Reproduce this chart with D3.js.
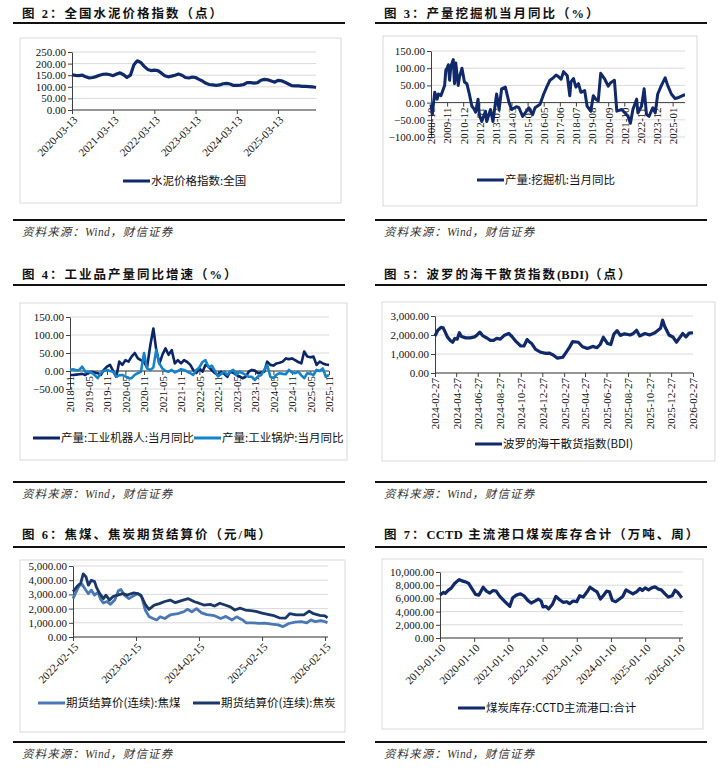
<!DOCTYPE html>
<html>
<head>
<meta charset="utf-8">
<script src="https://cdn.jsdelivr.net/npm/d3@7"></script>
<style>
  body { margin: 0; background: #fff; }
  svg { display: block; }
</style>
</head>
<body>
<script>
// ---------- data ----------
// 图2 水泥价格指数 (monthly from 2020-03-13)
const cementStart = '2020-03-13';
const cementValues = [152,149,148,150,143,138,140,144,150,154,155,152,148,155,160,152,140,150,195,212,
  205,188,175,170,172,170,160,148,143,146,150,155,150,140,138,142,140,132,125,115,
  110,108,106,108,113,115,112,106,106,107,110,118,118,116,118,128,132,130,125,120,
  128,126,120,112,105,104,104,102,102,101,100,97];
const cementTicks = ['2020-03-13','2021-03-13','2022-03-13','2023-03-13','2024-03-13','2025-03-13'];

// 图3 挖掘机产量当月同比
const excavatorMonths = ['2008-10','2008-11','2009-01','2009-03','2009-04','2009-06','2009-09','2009-10','2009-11','2009-12',
  '2010-01','2010-02','2010-04','2010-05','2010-06','2010-08','2010-09','2010-11','2011-01','2011-03',
  '2011-05','2011-07','2011-09','2011-10','2011-12','2012-01','2012-03','2012-06','2012-07','2012-10',
  '2012-12','2013-03','2013-05','2013-07','2013-10','2014-01','2014-03','2014-07','2014-09','2014-12',
  '2015-02','2015-05','2015-08','2015-10','2016-02','2016-05','2016-08','2016-10','2016-12','2017-03',
  '2017-05','2017-07','2017-09','2017-12','2018-02','2018-03','2018-05','2018-07','2018-09','2018-11',
  '2019-02','2019-04','2019-07','2019-09','2019-11','2020-01','2020-03','2020-06','2020-09','2020-11',
  '2021-02','2021-04','2021-08','2021-10','2022-01','2022-03','2022-05','2022-08','2022-09','2022-12',
  '2023-02','2023-04','2023-06','2023-09','2023-11','2024-01','2024-04','2024-07','2024-09','2024-12',
  '2025-03','2025-06','2025-10','2025-11'];
const excavatorValues = [-5,-35,30,10,25,20,50,95,100,110,
  65,105,125,55,115,50,75,100,60,55,
  25,-10,-20,-28,10,-35,-55,-25,-55,-20,
  -55,25,-20,40,45,0,-20,-12,-15,-40,
  -30,-15,-35,-15,-5,25,50,65,70,80,
  75,68,90,78,20,60,70,45,55,30,
  35,-10,-25,20,10,5,85,70,48,58,
  65,-25,-20,-28,-40,-60,-20,10,-30,-10,
  40,-35,-40,-15,-30,25,50,72,50,25,
  12,15,22,22];
const excavatorTicks = ['2008-10','2009-11','2010-12','2012-01','2013-02','2014-03','2015-04','2016-05',
  '2017-06','2018-07','2019-08','2020-09','2021-10','2022-11','2023-12','2025-01'];

// 图4 工业机器人 / 工业锅炉 当月同比 (monthly from 2018-11)
const industryStart = '2018-11';
const robotValues = [-11,-11,-10,-9,-8,-11,-5,-2,-4,-6,
  -11,3,12,17,0,-16,26,17,30,26,
  40,50,35,30,25,10,70,118,60,20,
  45,63,45,58,21,30,21,30,25,17,
  3,-6,7,-2,17,12,2,-6,-11,-2,
  -8,-16,-2,-5,-11,-15,-20,-16,-2,3,
  1,-6,-4,-2,26,17,15,21,23,26,
  35,33,35,30,25,21,54,40,38,40,
  17,26,21,18,17];
const boilerValues = [3,5,2,3,12,-2,-2,-4,-11,-20,
  -6,0,3,0,-2,-16,-12,-11,-15,-20,
  -20,-11,-6,-2,50,7,3,10,58,21,
  7,0,-2,3,-4,0,5,3,-2,-6,
  -11,3,10,25,30,10,15,0,-15,-8,
  -2,-11,-2,3,-11,-2,-6,-11,-16,-16,
  -25,-15,-11,3,17,-16,-20,-10,-6,-8,
  -9,3,-4,-6,-2,-12,-20,-6,-8,-11,
  3,0,7,-16,-11];
const industryTicks = ['2018-11','2019-05','2019-11','2020-05','2020-11','2021-05','2021-11','2022-05',
  '2022-11','2023-05','2023-11','2024-05','2024-11','2025-05','2025-11'];

// 图5 BDI
const bdiDates = ['2024-02-27','2024-03-06','2024-03-15','2024-03-21','2024-03-27','2024-04-02','2024-04-11','2024-04-17','2024-04-23','2024-04-30',
  '2024-05-06','2024-05-12','2024-05-24','2024-06-06','2024-06-18','2024-06-24','2024-07-03','2024-07-12','2024-07-24','2024-08-02',
  '2024-08-11','2024-08-20','2024-08-30','2024-09-11','2024-09-23','2024-10-02','2024-10-14','2024-10-27','2024-11-05','2024-11-14',
  '2024-11-20','2024-11-27','2024-12-08','2024-12-23','2025-01-06','2025-01-15','2025-01-27','2025-02-08','2025-02-23','2025-03-05',
  '2025-03-14','2025-03-23','2025-04-08','2025-04-20','2025-05-04','2025-05-19','2025-05-31','2025-06-09','2025-06-18','2025-06-30',
  '2025-07-09','2025-07-18','2025-07-27','2025-08-05','2025-08-17','2025-09-02','2025-09-11','2025-09-20','2025-09-29','2025-10-14',
  '2025-10-27','2025-11-11','2025-11-27','2025-12-03','2025-12-09','2025-12-21','2026-01-02','2026-01-11','2026-01-20','2026-01-29',
  '2026-02-07','2026-02-16','2026-02-27'];
const bdiValues = [1950,2250,2400,2380,2150,1900,1700,1620,1820,1780,
  2120,1920,1850,1850,1900,1980,2150,1950,1830,1720,
  1720,1820,1780,1990,2080,1920,1650,1420,1420,1760,
  1650,1550,1240,1090,1030,1050,950,780,830,1100,
  1350,1650,1620,1380,1290,1400,1330,1500,1880,1550,
  1500,2050,2230,1980,2060,2000,2080,2250,1950,2080,
  2000,2120,2350,2780,2450,2000,1880,1620,1850,2080,
  1900,2100,2120];
const bdiTicks = ['2024-02-27','2024-04-27','2024-06-27','2024-08-27','2024-10-27','2024-12-27','2025-02-27',
  '2025-04-27','2025-06-27','2025-08-27','2025-10-27','2025-12-27','2026-02-27'];

// 图6 焦煤、焦炭期货结算价
const cokeDates = ['2022-02-15','2022-03-10','2022-04-01','2022-04-15','2022-05-01','2022-05-15','2022-06-01','2022-06-20','2022-07-01','2022-07-20',
  '2022-08-10','2022-08-25','2022-09-15','2022-10-05','2022-11-01','2022-12-01','2022-12-25','2023-01-30','2023-02-28','2023-03-15',
  '2023-04-10','2023-05-01','2023-06-01','2023-07-01','2023-08-01','2023-09-01','2023-10-01','2023-11-15','2023-12-15','2024-01-20',
  '2024-02-15','2024-03-15','2024-04-20','2024-05-15','2024-06-15','2024-07-15','2024-08-15','2024-09-10','2024-10-10','2024-11-10',
  '2024-12-10','2025-01-10','2025-02-15','2025-03-20','2025-04-25','2025-05-25','2025-07-01','2025-07-25','2025-09-01','2025-10-15',
  '2025-11-15','2025-12-10','2026-01-15','2026-02-15','2026-03-01'];
const cokeValues = [3200,3550,3800,4450,4250,3650,4000,3900,3500,3050,
  2700,2950,2600,2850,2950,3050,2950,3100,3050,2950,
  2300,1950,2250,2350,2500,2600,2420,2600,2700,2480,
  2380,2250,2300,2180,2380,2250,2120,1900,2030,1900,
  1850,1800,1680,1600,1500,1350,1330,1650,1560,1560,
  1820,1640,1530,1480,1350];
const cokingCoalDates = ['2022-02-15','2022-03-10','2022-03-25','2022-04-10','2022-04-25','2022-05-15','2022-06-01','2022-06-20','2022-07-10','2022-07-25',
  '2022-08-10','2022-09-01','2022-09-20','2022-10-15','2022-11-05','2022-11-20','2022-12-10','2023-01-05','2023-02-01','2023-02-25',
  '2023-03-20','2023-04-10','2023-05-01','2023-05-25','2023-06-15','2023-07-05','2023-08-01','2023-09-01','2023-10-15','2023-11-20',
  '2023-12-10','2024-01-05','2024-02-01','2024-03-01','2024-04-01','2024-05-15','2024-06-20','2024-07-20','2024-08-25','2024-09-20',
  '2024-10-25','2024-11-15','2024-12-20','2025-01-25','2025-03-01','2025-04-10','2025-05-20','2025-06-15','2025-07-20','2025-08-25',
  '2025-10-01','2025-11-01','2025-11-25','2025-12-20','2026-01-20','2026-02-15','2026-03-01'];
const cokingCoalValues = [2700,3300,3650,3700,3400,3050,3300,2950,3150,2650,
  2400,2500,2300,2600,3250,3350,2950,2700,2900,3050,
  2850,1900,1450,1300,1200,1430,1300,1550,1650,1780,
  1950,1780,2000,1700,1580,1500,1300,1450,1200,1420,
  1200,1000,1000,960,980,900,850,730,950,1050,
  1080,1000,1200,1080,1150,1080,1000];
const cokeTicks = ['2022-02-15','2023-02-15','2024-02-15','2025-02-15','2026-02-15'];

// 图7 CCTD主流港口煤炭库存合计
const portDates = ['2019-01-10','2019-02-15','2019-03-07','2019-04-10','2019-05-10','2019-06-15','2019-07-20','2019-08-05','2019-09-01','2019-10-10',
  '2019-11-10','2019-12-20','2020-01-25','2020-03-01','2020-04-15','2020-05-20','2020-06-25','2020-07-30','2020-09-01','2020-10-10',
  '2020-11-20','2020-12-25','2021-01-25','2021-02-25','2021-04-05','2021-05-20','2021-06-25','2021-08-05','2021-09-10','2021-10-20',
  '2021-11-25','2021-12-25','2022-01-15','2022-02-15','2022-03-15','2022-04-25','2022-06-01','2022-07-10','2022-08-20','2022-09-25',
  '2022-10-25','2022-12-01','2023-01-10','2023-02-10','2023-03-20','2023-05-01','2023-06-01','2023-07-10','2023-08-15','2023-09-20',
  '2023-10-20','2023-11-25','2023-12-25','2024-01-25','2024-03-01','2024-04-10','2024-05-15','2024-06-20','2024-07-25','2024-09-01',
  '2024-10-10','2024-11-15','2024-12-10','2025-01-10','2025-02-15','2025-03-20','2025-04-25','2025-06-01','2025-07-01','2025-08-10',
  '2025-09-15','2025-10-25','2025-11-25','2025-12-25','2026-01-25','2026-02-05'];
const portValues = [6500,6900,6750,7250,7550,8250,8700,8850,8650,8500,
  8300,7400,6600,6500,7700,7100,6800,7200,7100,6300,
  5700,5200,4800,6100,6500,6700,6400,5700,5300,5600,
  5900,5600,4700,4800,4400,5100,6300,5800,5400,5500,
  5200,5600,5500,6400,6200,7000,7700,7300,7000,5900,
  6400,7100,7000,5700,5500,5900,6300,7300,7000,6700,
  7000,7500,7200,7600,7300,7600,7750,7400,7300,6700,
  6200,6400,7250,6900,6300,6100];
const portTicks = ['2019-01-10','2020-01-10','2021-01-10','2022-01-10','2023-01-10','2024-01-10','2025-01-10','2026-01-10'];

// ---------- drawing ----------
const svg = d3.select('body').append('svg')
    .attr('width', 719)
    .attr('height', 777);
svg.append('rect').attr('width', 719).attr('height', 777).attr('fill', '#fff');

const NAVY = '#10296b';
const pDay = d3.timeParse('%Y-%m-%d');
const pMon = d3.timeParse('%Y-%m');
const fmt2 = d3.format(',.2f');
const SERIF = '"Liberation Serif","Times New Roman","Noto Sans CJK SC",serif';
const CJK = '"Noto Sans CJK SC","Liberation Sans",sans-serif';

function drawPanel(c) {
    const g = svg.append('g');

    // title: CJK runs spaced out, latin words (CCTD, BDI) kept tight
    const t = g.append('text')
        .attr('x', c.rule[0] + 9).attr('y', c.titleY)
        .attr('font-family', SERIF).attr('font-weight', 700)
        .attr('font-size', 12.5).attr('fill', '#111');
    c.title.match(/[A-Za-z()]{2,}|[^A-Za-z()]+|./g).forEach(run => {
        t.append('tspan')
            .attr('letter-spacing', /^[A-Za-z()]{2,}$/.test(run) ? 0.3 : 2)
            .text(run);
    });

    // rules + source
    [c.ruleTop, c.ruleBot].forEach(yy => {
        g.append('line')
            .attr('x1', c.rule[0]).attr('x2', c.rule[1])
            .attr('y1', yy).attr('y2', yy)
            .attr('stroke', '#111').attr('stroke-width', 1.8);
    });
    const src = g.append('text')
        .attr('x', c.rule[0] + 9).attr('y', c.ruleBot + 16)
        .attr('font-style', 'italic').attr('font-size', 11.5)
        .attr('letter-spacing', 1.1).attr('fill', '#333');
    src.append('tspan').attr('font-family', CJK).text('资料来源：');
    src.append('tspan').attr('font-family', SERIF).attr('letter-spacing', 0.4).text('Wind');
    src.append('tspan').attr('font-family', CJK).text('，财信证券');

    // chart box
    g.append('rect')
        .attr('x', c.box[0]).attr('y', c.box[1])
        .attr('width', c.box[2] - c.box[0]).attr('height', c.box[3] - c.box[1])
        .attr('fill', '#fff').attr('stroke', '#d9d9d9').attr('stroke-width', 1);

    // scales
    const x = d3.scaleTime().domain(c.xDomain).range([c.plot[0], c.plot[1]]);
    const y = d3.scaleLinear().domain(c.yDomain).range([c.plot[3], c.plot[2]]);

    // grid
    g.append('g').selectAll('line')
        .data(c.yTicks)
        .enter().append('line')
            .attr('x1', c.plot[0]).attr('x2', c.plot[1])
            .attr('y1', d => y(d)).attr('y2', d => y(d))
            .attr('stroke', '#d9d9d9').attr('stroke-width', 1);

    // y axis
    const yAxis = d3.axisLeft(y).tickValues(c.yTicks).tickFormat(fmt2).tickSize(4).tickSizeOuter(0);
    const yG = g.append('g')
        .attr('transform', `translate(${c.plot[0]},0)`)
        .call(yAxis);
    yG.select('.domain').attr('stroke', '#404040');
    yG.selectAll('.tick line').attr('stroke', '#404040');
    yG.selectAll('text')
        .attr('font-family', SERIF).attr('font-size', 11).attr('fill', '#111').attr('x', -6);

    // x axis
    const axisY = y(c.xAxisAt);
    const xAxis = d3.axisBottom(x).tickValues(c.xTicks.map(c.parse))
        .tickFormat(d3.timeFormat(c.xFmt)).tickSize(4).tickSizeOuter(0);
    const xG = g.append('g')
        .attr('transform', `translate(0,${axisY})`)
        .call(xAxis);
    xG.select('.domain').attr('stroke', '#404040')
        .attr('d', `M${c.plot[0]},0H${c.plot[1]}`);
    xG.selectAll('.tick line').attr('stroke', '#404040');
    const xt = xG.selectAll('text')
        .attr('font-family', SERIF).attr('font-size', 11).attr('fill', '#111')
        .attr('text-anchor', 'end');
    if (c.rot === -90) {
        xt.attr('x', -5).attr('y', 0).attr('dy', '0.35em').attr('transform', 'rotate(-90)');
    } else {
        xt.attr('x', 0).attr('y', 0).attr('dy', '0.35em')
          .attr('transform', 'translate(3,8) rotate(-45)');
    }

    // lines
    const line = d3.line().x(d => x(d[0])).y(d => y(d[1]));
    c.series.forEach(s => {
        const pts = s.dates.map((d, i) => [d, s.values[i]]);
        g.append('path')
            .datum(pts)
            .attr('d', line)
            .attr('fill', 'none')
            .attr('stroke', s.color)
            .attr('stroke-width', s.width)
            .attr('stroke-linejoin', 'round');
    });

    // legend
    c.series.forEach(s => {
        g.append('line')
            .attr('x1', s.lx).attr('x2', s.lx + 27)
            .attr('y1', c.legendY).attr('y2', c.legendY)
            .attr('stroke', s.color).attr('stroke-width', 3);
        g.append('text')
            .attr('x', s.lx + 28).attr('y', c.legendY)
            .attr('dy', '0.35em')
            .attr('font-family', CJK).attr('font-size', 11.5).attr('fill', '#111')
            .text(s.name);
    });
}

// 图2
drawPanel({
    title: '图 2：全国水泥价格指数（点）',
    rule: [13, 345], titleY: 18, ruleTop: 23, ruleBot: 220,
    box: [20, 38, 341, 203],
    plot: [72, 316, 52, 110],
    yDomain: [0, 250], yTicks: [0, 50, 100, 150, 200, 250],
    xDomain: [pDay('2020-03-13'), pDay('2026-02-13')],
    xTicks: cementTicks, parse: pDay, xFmt: '%Y-%m-%d', xAxisAt: 0, rot: -45,
    legendY: 181,
    series: [{
        name: '水泥价格指数:全国', color: NAVY, width: 3.2, lx: 123,
        dates: cementValues.map((v, i) => d3.timeMonth.offset(pDay(cementStart), i)),
        values: cementValues
    }]
});

// 图3
drawPanel({
    title: '图 3：产量挖掘机当月同比（%）',
    rule: [375, 707], titleY: 18, ruleTop: 23, ruleBot: 220,
    box: [383, 36, 697, 206],
    plot: [431, 685, 51, 137],
    yDomain: [-100, 150], yTicks: [-100, -50, 0, 50, 100, 150],
    xDomain: [pMon('2008-10'), pMon('2025-11')],
    xTicks: excavatorTicks, parse: pMon, xFmt: '%Y-%m', xAxisAt: 0, rot: -90,
    legendY: 180,
    series: [{
        name: '产量:挖掘机:当月同比', color: NAVY, width: 3, lx: 477,
        dates: excavatorMonths.map(pMon), values: excavatorValues
    }]
});

// 图4
drawPanel({
    title: '图 4：工业品产量同比增速（%）',
    rule: [13, 345], titleY: 279, ruleTop: 285, ruleBot: 482,
    box: [20, 303, 347, 460],
    plot: [70, 329, 317, 389],
    yDomain: [-50, 150], yTicks: [-50, 0, 50, 100, 150],
    xDomain: [pMon('2018-11'), pMon('2025-11')],
    xTicks: industryTicks, parse: pMon, xFmt: '%Y-%m', xAxisAt: 0, rot: -90,
    legendY: 438,
    series: [{
        name: '产量:工业机器人:当月同比', color: '#0b2567', width: 2.6, lx: 33,
        dates: robotValues.map((v, i) => d3.timeMonth.offset(pMon(industryStart), i)),
        values: robotValues
    }, {
        name: '产量:工业锅炉:当月同比', color: '#1583cc', width: 2.6, lx: 194,
        dates: boilerValues.map((v, i) => d3.timeMonth.offset(pMon(industryStart), i)),
        values: boilerValues
    }]
});

// 图5
drawPanel({
    title: '图 5：波罗的海干散货指数(BDI)（点）',
    rule: [375, 707], titleY: 279, ruleTop: 285, ruleBot: 482,
    box: [382, 302, 715, 461],
    plot: [435, 693, 316, 373],
    yDomain: [0, 3000], yTicks: [0, 1000, 2000, 3000],
    xDomain: [pDay('2024-02-27'), pDay('2026-02-27')],
    xTicks: bdiTicks, parse: pDay, xFmt: '%Y-%m-%d', xAxisAt: 0, rot: -90,
    legendY: 444,
    series: [{
        name: '波罗的海干散货指数(BDI)', color: NAVY, width: 3.2, lx: 475,
        dates: bdiDates.map(pDay), values: bdiValues
    }]
});

// 图6
drawPanel({
    title: '图 6：焦煤、焦炭期货结算价（元/吨）',
    rule: [13, 345], titleY: 539, ruleTop: 547, ruleBot: 742,
    box: [20, 560, 345, 732],
    plot: [73, 328, 566, 637],
    yDomain: [0, 5000], yTicks: [0, 1000, 2000, 3000, 4000, 5000],
    xDomain: [pDay('2022-02-15'), pDay('2026-03-04')],
    xTicks: cokeTicks, parse: pDay, xFmt: '%Y-%m-%d', xAxisAt: 0, rot: -45,
    legendY: 703,
    series: [{
        name: '期货结算价(连续):焦煤', color: '#4a78b4', width: 2.8, lx: 38,
        dates: cokingCoalDates.map(pDay), values: cokingCoalValues
    }, {
        name: '期货结算价(连续):焦炭', color: '#1a3868', width: 2.8, lx: 193,
        dates: cokeDates.map(pDay), values: cokeValues
    }]
});

// 图7
drawPanel({
    title: '图 7：CCTD 主流港口煤炭库存合计（万吨、周）',
    rule: [375, 707], titleY: 539, ruleTop: 547, ruleBot: 742,
    box: [382, 559, 703, 729],
    plot: [440, 683, 572, 638],
    yDomain: [0, 10000], yTicks: [0, 2000, 4000, 6000, 8000, 10000],
    xDomain: [pDay('2019-01-10'), pDay('2026-02-18')],
    xTicks: portTicks, parse: pDay, xFmt: '%Y-%m-%d', xAxisAt: 0, rot: -45,
    legendY: 708,
    series: [{
        name: '煤炭库存:CCTD主流港口:合计', color: NAVY, width: 3.2, lx: 458,
        dates: portDates.map(pDay), values: portValues
    }]
});
</script>
</body>
</html>
